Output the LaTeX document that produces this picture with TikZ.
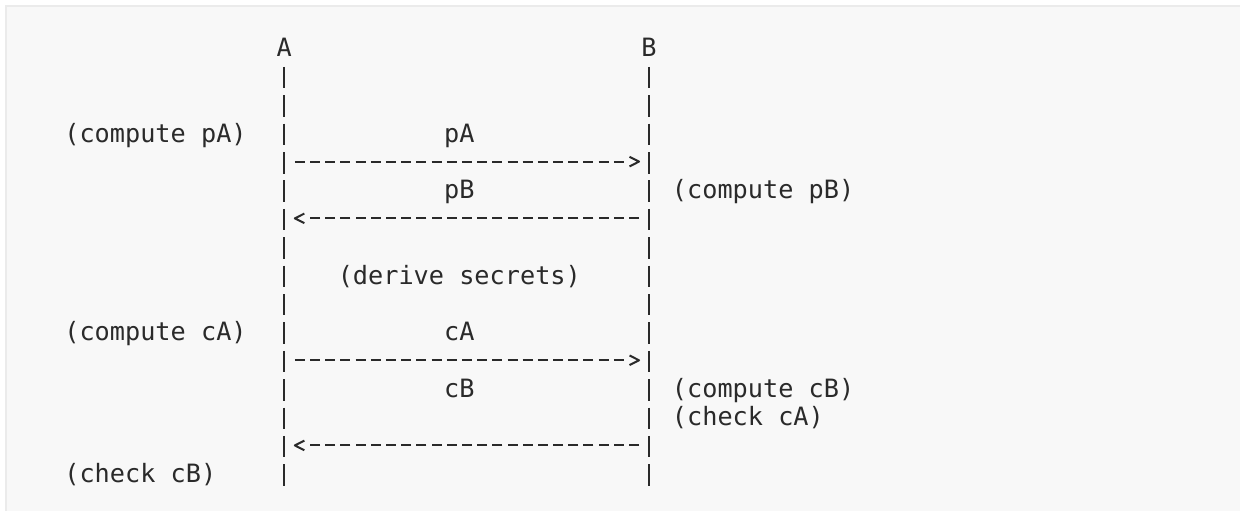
\documentclass[tikz,border=0pt]{standalone}
\usepackage{fontspec}
\setmonofont{DejaVu Sans Mono}
\definecolor{ink}{HTML}{2A2A2A}
\definecolor{codebg}{HTML}{F8F8F8}
\definecolor{codeedge}{HTML}{EBEBEB}
\tikzset{
  txt/.style={inner sep=0pt, anchor=base west, text=ink,
    font=\ttfamily\fontsize{18.94}{22}\selectfont},
  party/.style={txt, anchor=base},
  life/.style={draw=ink, line width=1.45pt, dash pattern=on 16.1pt off 5.2pt},
  msg/.style={draw=ink, line width=1.5pt, dash pattern=on 7.5pt off 3.9pt},
  fwd/.style={msg, shorten <=7.9pt, shorten >=18.8pt},
  bwd/.style={msg, shorten <=7.4pt, shorten >=19.3pt},
  head/.style={draw=ink, line width=1.5pt, line join=round},
}

\begin{document}
\begin{tikzpicture}[x=0.75pt, y=-0.75pt]
      % code block background
      \fill [white] (0,0) rectangle (1241,511);
      \fill [codebg] (6,6) rectangle (1241,511);
      \draw [codeedge, line width=1.2pt] (6,511) -- (6,5.8) -- (1241,5.8);
      \useasboundingbox (0,0) rectangle (1241,511);

      % parties and lifelines
      \node [party] (A) at (284.5,57) {A};
      \node [party] (B) at (649.3,57) {B};
      \coordinate (A-end) at (284.5,485.9);
      \coordinate (B-end) at (649.3,485.9);
      \draw [life, shorten <=7.3pt] (A) -- (A-end);
      \draw [life, shorten <=7.3pt] (B) -- (B-end);

      % message rows on the lifelines
      \foreach \r/\y in {4/161.7, 6/218.5, 11/360.5, 14/445.7} {
        \coordinate (A\r) at (284.5,\y);
        \coordinate (B\r) at (649.3,\y);
      }

      % pA
      \node [txt] (cpA) at (64.1,142.2) {(compute pA)};
      \node [txt] (pA) at (444.1,142.2) {pA};
      \draw [fwd] (A4) -- (B4);
      \draw [head] ([xshift=-7.4pt]B4) ++(-9.5,-4.8) -- ++(9.5,4.8) -- ++(-9.5,4.8);

      % pB
      \node [txt] (pB) at (444.1,199) {pB};
      \node [txt] (cpB) at (672.1,199) {(compute pB)};
      \draw [bwd] (B6) -- (A6);
      \draw [head] ([xshift=7.9pt]A6) ++(9.5,-4.8) -- ++(-9.5,4.8) -- ++(9.5,4.8);

      \node [txt] (derive) at (337.7,284.2) {(derive secrets)};

      % cA
      \node [txt] (ccA) at (64.1,341) {(compute cA)};
      \node [txt] (cA) at (444.1,341) {cA};
      \draw [fwd] (A11) -- (B11);
      \draw [head] ([xshift=-7.4pt]B11) ++(-9.5,-4.8) -- ++(9.5,4.8) -- ++(-9.5,4.8);

      % cB
      \node [txt] (cB) at (444.1,397.8) {cB};
      \node [txt] (ccB) at (672.1,397.8) {(compute cB)};
      \node [txt] (kcA) at (672.1,426.2) {(check cA)};
      \draw [bwd] (B14) -- (A14);
      \draw [head] ([xshift=7.9pt]A14) ++(9.5,-4.8) -- ++(-9.5,4.8) -- ++(9.5,4.8);
      \node [txt] (kcB) at (64.1,483) {(check cB)};
    \end{tikzpicture}
\end{document}
